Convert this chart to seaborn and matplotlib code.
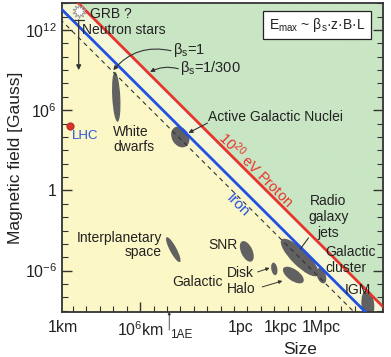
import numpy as np
import pandas as pd
import matplotlib
matplotlib.use("Agg")
import matplotlib.pyplot as plt
import seaborn as sns
from matplotlib.patches import Ellipse, Rectangle

# everything in log10: size in m, field in Gauss
size_lim = [3.16, 27.1]
field_lim = [-9.07, 14.0]

# Hillas condition: log10(B) + log10(L) = const
line_labels = ['proton', 'iron', 'slow']
line_const = [18.4, 16.7, 15.85]

# source regions (centre, extent along long / short axis, tilt)
src_names = ['White dwarfs', 'AGN', 'Interplanetary', 'SNR', 'Disk', 'Halo',
             'Radio jets', 'Cluster', 'IGM']
src_size = [7.22, 11.99, 11.47, 16.95, 19.0, 20.42, 20.89, 22.51, 25.97]
src_field = [7.0, 4.0, -4.43, -4.56, -5.87, -6.33, -5.02, -6.38, -8.54]
src_long = [3.74, 1.65, 2.1, 1.65, 0.95, 1.8, 3.8, 1.2, 2.2]
src_short = [0.6, 1.25, 0.5, 0.85, 0.45, 0.85, 1.2, 0.65, 0.95]
src_tilt = [93, -60, -62, -65, -80, -35, -45, -70, -85]

lhc_size = [3.78]
lhc_field = [4.82]
ns_size = 4.42
ns_field = [13.42, 12.75, 9.0]   # GRB, top of range, bottom of range

xtick_pos = [3.25, 9, 16.49, 19.49, 22.49]
xtick_lab = ['1km', '$10^{6}$km', '1pc', '1kpc', '1Mpc']
ytick_pos = [-6, 0, 6, 12]
ytick_lab = ['$10^{-6}$', '1', '$10^{6}$', '$10^{12}$']
au = 11.17

sns.set_style("ticks")
plt.rcParams['font.family'] = ['Liberation Sans', 'DejaVu Sans']
plt.rcParams['mathtext.fontset'] = 'custom'
plt.rcParams['mathtext.rm'] = 'Liberation Sans'
plt.rcParams['mathtext.it'] = 'Liberation Sans:italic'
plt.rcParams['mathtext.bf'] = 'Liberation Sans:bold'

fig = plt.figure(figsize=(3.91, 3.57), dpi=100)
ax = fig.add_axes([0.158, 0.127, 0.8215, 0.8638])

# background: green beyond the proton line, yellow fading to white below it
gx = np.linspace(*size_lim, 500)
gy = np.linspace(*field_lim, 500)
X, Y = np.meshgrid(gx, gy)
d = X + Y
yellow = np.array([252, 247, 198]) / 255
pale = np.array([242, 247, 226]) / 255
green = np.array([201, 230, 196]) / 255
t = np.clip((d - 15.4) / (line_const[0] - 15.4), 0, 1)[..., None]
rgb = yellow * (1 - t) + pale * t
rgb[d >= line_const[0]] = green
ax.imshow(rgb, extent=[*size_lim, *field_lim], origin='lower', aspect='auto',
          zorder=0, interpolation='bilinear')

# source blobs
for L, B, a, b, ang in zip(src_size, src_field, src_long, src_short, src_tilt):
    ax.add_patch(Ellipse((L, B), a, b, angle=ang, facecolor='#616161',
                         edgecolor='none', zorder=2))

# Hillas lines
styles = {'proton': dict(color='#e8342b', linestyle='-', lw=2.0),
          'iron': dict(color='#2150e3', linestyle='-', lw=2.0),
          'slow': dict(color='#333333', linestyle=(0, (4, 3.5)), lw=0.8)}
xs = np.array([size_lim[0] - 1, size_lim[1] + 1])
for name, c in zip(line_labels, line_const):
    df = pd.DataFrame({'logL': xs, 'logB': c - xs})
    sns.lineplot(data=df, x='logL', y='logB', ax=ax, zorder=3, **styles[name])

# LHC
sns.scatterplot(x=lhc_size, y=lhc_field, color='#e0302a', s=28,
                edgecolor='#902020', linewidth=0.5, zorder=4, ax=ax)
ax.text(3.93, 4.07, 'LHC', color='#2a52e0', fontsize=9.5, va='center', ha='left')

# neutron stars / GRB
ax.plot([ns_size], [ns_field[0]], marker=(10, 1, 0), ms=10, mfc='white',
        mec='#9a9a9a', mew=0.7, zorder=4)
ax.plot([ns_size - 0.38, ns_size + 0.38], [ns_field[1]] * 2, color='#333', lw=0.9, zorder=4)
ax.annotate('', xy=(ns_size, ns_field[2]), xytext=(ns_size, ns_field[1]),
            arrowprops=dict(arrowstyle='-|>', color='#333', lw=0.9,
                            mutation_scale=7, shrinkA=0, shrinkB=0), zorder=4)
ax.text(5.27, 13.2, 'GRB ?', fontsize=10, va='center', ha='left', color='#222')
ax.text(4.68, 12.0, 'Neutron stars', fontsize=10, va='center', ha='left', color='#222')

ax.text(6.99, 3.81, 'White\ndwarfs', fontsize=10, va='center', ha='left',
        color='#222', linespacing=1.1)

# beta labels
ax.text(11.48, 10.51, r'β$_\mathregular{s}$=1', fontsize=10.5, va='center', ha='left', color='#222')
ax.text(12.0, 9.16, r'β$_\mathregular{s}$=1/300', fontsize=10.5, va='center', ha='left', color='#222')
ax.annotate('', xy=(7.0, 9.0), xytext=(11.3, 10.45),
            arrowprops=dict(arrowstyle='-|>', color='#333', lw=0.8, mutation_scale=6,
                            connectionstyle='arc3,rad=0.3', shrinkA=0, shrinkB=0))
ax.annotate('', xy=(9.74, 8.86), xytext=(11.85, 9.1),
            arrowprops=dict(arrowstyle='-|>', color='#333', lw=0.8, mutation_scale=6,
                            connectionstyle='arc3,rad=0.2', shrinkA=0, shrinkB=0))

# formula box
ax.add_patch(Rectangle((0.6265, 0.8843), 0.3362, 0.0907, transform=ax.transAxes,
                       facecolor='white', edgecolor='#222', lw=0.9, zorder=5))
ax.text(0.646, 0.9296, r'E$_\mathregular{max}$ ~ β$_\mathregular{s}$·z·B·L', transform=ax.transAxes,
        fontsize=10, va='center', ha='left', color='#222', zorder=6)

# AGN
ax.text(14.09, 5.5, 'Active Galactic Nuclei', fontsize=10, va='center', ha='left', color='#222')
ax.annotate('', xy=(12.6, 4.3), xytext=(14.02, 5.04),
            arrowprops=dict(arrowstyle='-|>', color='#333', lw=0.8, mutation_scale=6,
                            shrinkA=0, shrinkB=0))

# line labels
ax.text(17.66, 1.6, '10$^{20}$ eV Proton', fontsize=10.5, color='#e8342b', rotation=-45,
        rotation_mode='anchor', ha='center', va='center', zorder=5)
ax.text(16.28, -1.09, 'Iron', fontsize=11, color='#2150e3', rotation=-45,
        rotation_mode='anchor', ha='center', va='center', zorder=5)

# lower sources
ax.text(10.64, -4.08, 'Interplanetary\nspace', fontsize=10, va='center', ha='right',
        color='#222', linespacing=1.05)
ax.text(15.16, -4.07, 'SNR', fontsize=10, va='center', ha='center', color='#222')
ax.text(13.27, -6.84, 'Galactic', fontsize=10, va='center', ha='center', color='#222')
ax.text(16.47, -6.17, 'Disk', fontsize=10, va='center', ha='center', color='#222')
ax.text(16.55, -7.37, 'Halo', fontsize=10, va='center', ha='center', color='#222')
ax.annotate('', xy=(18.65, -5.8), xytext=(17.75, -6.1),
            arrowprops=dict(arrowstyle='-|>', color='#333', lw=0.7, mutation_scale=5,
                            shrinkA=0, shrinkB=0))
ax.annotate('', xy=(19.6, -6.77), xytext=(18.1, -7.22),
            arrowprops=dict(arrowstyle='-|>', color='#333', lw=0.7, mutation_scale=5,
                            shrinkA=0, shrinkB=0))
ax.text(23.03, -1.97, 'Radio\ngalaxy\njets', fontsize=10, va='center', ha='center',
        color='#222', zorder=5)
ax.plot([21.55, 20.95], [-3.55, -4.37], color='#333', lw=0.8, zorder=4)
ax.text(22.81, -5.2, 'Galactic\ncluster', fontsize=10, va='center', ha='left',
        color='#222', zorder=5)
ax.text(25.23, -7.44, 'IGM', fontsize=10, va='center', ha='center', color='#222', zorder=5)

# 1 AU marker below the axis
ax.annotate('', xy=(au, field_lim[0]), xytext=(au, -10.45), annotation_clip=False,
            arrowprops=dict(arrowstyle='-|>', color='#333', lw=0.6, mutation_scale=4,
                            shrinkA=0, shrinkB=0))
ax.text(au + 0.08, -10.8, '1AE', fontsize=8.5, va='center', ha='left', color='#222',
        clip_on=False)

# axes
ax.set_xlim(size_lim)
ax.set_ylim(field_lim)
ax.set_xticks(xtick_pos)
ax.set_xticklabels(xtick_lab)
ax.set_xticks(np.arange(4, 28), minor=True)
ax.set_yticks(ytick_pos)
ax.set_yticklabels(ytick_lab)
ax.set_yticks(np.arange(-9, 15), minor=True)
ax.tick_params(which='both', direction='in', top=False, right=True,
               labelsize=11.5, color='#333', labelcolor='#222')
ax.tick_params(which='major', length=7, width=1)
ax.tick_params(which='minor', length=4, width=0.8)
ax.tick_params(axis='x', which='major', length=0, pad=6)
ax.xaxis.get_major_ticks()[1].tick1line.set_markersize(7)

for s in ax.spines.values():
    s.set_linewidth(1.3)
    s.set_color('#333')

ax.set_ylabel('Magnetic field [Gauss]', fontsize=12.5, color='#222')
ax.yaxis.set_label_coords(-0.12, 0.5)
ax.set_xlabel('Size', fontsize=12.5, color='#222')
ax.xaxis.set_label_coords(0.742, -0.098)

fig.savefig('out.png', dpi=100)
